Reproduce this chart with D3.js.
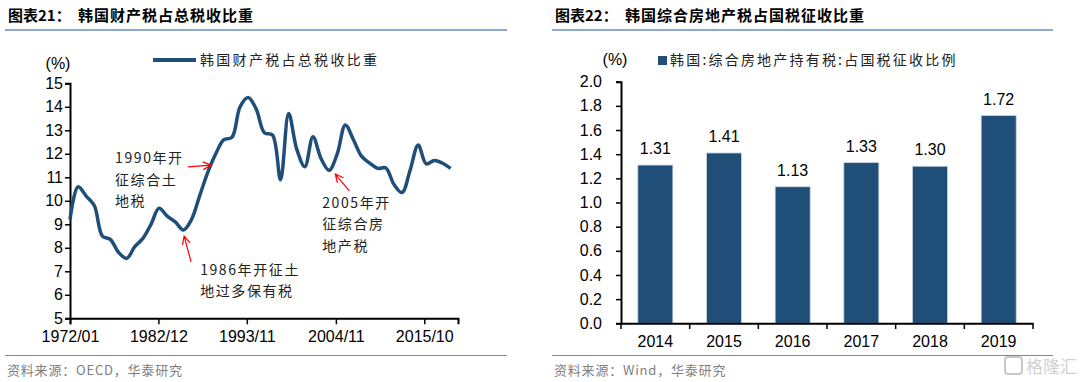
<!DOCTYPE html>
<html>
<head>
<meta charset="utf-8">
<script src="https://cdn.jsdelivr.net/npm/d3@7"></script>
<style>
  html,body{margin:0;padding:0;background:#fff;}
  svg{display:block;}
  text{font-family:"Liberation Sans",Arial,sans-serif;}
  .cjk{font-family:"Noto Sans CJK SC",sans-serif;}
</style>
</head>
<body>
<svg id="chart" width="1080" height="382"></svg>
<script>
// 图表21 data: 韩国财产税占总税收比重 (annual, %)
var years = d3.range(1972,2020);
var shareValues = [9.2,10.6,10.2,9.8,8.5,8.35,7.8,7.55,8.05,8.4,
	9.0,9.68,9.35,9.1,8.76,9.2,10.2,11.2,12.0,12.6,
	12.7,14.0,14.4,13.9,12.9,12.8,10.9,13.72,12.2,11.45,
	12.73,11.8,11.3,12.0,13.23,12.6,11.9,11.6,11.38,11.4,
	10.7,10.35,11.3,12.37,11.57,11.72,11.6,11.38];
var lineTicks = ['1972/01','1982/12','1993/11','2004/11','2015/10'];
var lineLegend = '韩国财产税占总税收比重';

// annotations: text lines, text anchor, arrow from/to (year fraction, value)
var notes = [
	{lines:['1990年开','征综合土','地税'], at:[1977.56,11.82], from:[1986.59,11.44], to:[1989.43,11.52]},
	{lines:['1986年开征土','地过多保有税'], at:[1988.07,7.06], from:[1986.96,7.40], to:[1986.09,8.5]},
	{lines:['2005年开','征综合房','地产税'], at:[2003.15,9.91], from:[2006.49,10.42], to:[2004.76,11.14]}
];

// 图表22 data
var barYears = ['2014','2015','2016','2017','2018','2019'];
var barValues = [1.31,1.41,1.13,1.33,1.30,1.72];
var barLegend = '韩国:综合房地产持有税:占国税征收比例';

var svg = d3.select('#chart');
var blue = '#1F4E79';

function yr(f){
	var y = Math.floor(f);
	return new Date(y,0,1+Math.round((f-y)*365));
}
function parseTick(s){
	var p = s.split('/');
	return new Date(+p[0],+p[1]-1,1);
}

// frame: title, underline, footer
function frame(x0,x1,num,title,source){
	svg.append('text').attr('class','cjk').attr('x',x0+3).attr('y',21)
		.style('font-size','15px').style('font-weight','bold').text('图表'+num+'：');
	svg.append('text').attr('class','cjk').attr('x',x0+73).attr('y',21)
		.style('font-size','15px').style('font-weight','bold').style('letter-spacing','1px').text(title);
	svg.append('line').attr('x1',x0).attr('x2',x1).attr('y1',30).attr('y2',30)
		.style('stroke','#6A8CBE').style('stroke-width',1.5);
	svg.append('line').attr('x1',x0).attr('x2',x1).attr('y1',355.5).attr('y2',355.5)
		.style('stroke','#6A8CBE').style('stroke-width',1.2);
	svg.append('text').attr('class','cjk').attr('x',x0+2).attr('y',375)
		.style('font-size','13px').style('fill','#808080').style('letter-spacing','0.8px').text(source);
}
frame(5,507,'21','韩国财产税占总税收比重','资料来源：OECD，华泰研究');
frame(552,1053,'22','韩国综合房地产税占国税征收比重','资料来源：Wind，华泰研究');

//Part 1: line chart
var x = d3.scaleTime().domain([new Date(1972,0,1),new Date(2019,11,1)]).range([70,458]);
var y = d3.scaleLinear().domain([5,15]).range([318.3,83.3]);

var g1 = svg.append('g');
var yAxis1 = g1.append('g').attr('transform','translate(70,0)')
	.call(d3.axisLeft(y).ticks(10).tickSize(5).tickPadding(2));
var xAxis1 = g1.append('g').attr('transform','translate(0,318.3)')
	.call(d3.axisBottom(x).tickValues(lineTicks.map(parseTick)).tickSize(6).tickPadding(6)
		.tickFormat(function(d,i){return lineTicks[i]}));
[yAxis1,xAxis1].forEach(function(a){
	a.select('.domain').style('stroke','#000').style('stroke-width',2);
	a.selectAll('.tick line').style('stroke','#000').style('stroke-width',1.5);
	a.selectAll('.tick text').style('font-size','16px').style('fill','#000')
		.style('font-family','"Liberation Sans",Arial,sans-serif');
});

g1.append('text').attr('x',58).attr('y',69).attr('text-anchor','middle')
	.style('font-size','16px').text('(%)');

var line = d3.line()
	.x(function(d){return x(d.date)})
	.y(function(d){return y(d.value)})
	.curve(d3.curveCatmullRom.alpha(0.5));
var lineData = years.map(function(d,i){return {date:new Date(d,0,1),value:shareValues[i]}});
g1.append('path').datum(lineData).attr('d',line)
	.style('fill','none').style('stroke',blue).style('stroke-width',3.5)
	.style('stroke-linejoin','round');

// legend
g1.append('line').attr('x1',153).attr('x2',196).attr('y1',60).attr('y2',60)
	.style('stroke',blue).style('stroke-width',4);
g1.append('text').attr('class','cjk').attr('x',200).attr('y',65)
	.style('font-size','14px').style('letter-spacing','2.3px').style('fill','#222').text(lineLegend);

// annotations
notes.forEach(function(n){
	var tx = x(yr(n.at[0])), ty = y(n.at[1]);
	n.lines.forEach(function(l,i){
		g1.append('text').attr('class','cjk').attr('x',tx).attr('y',ty+5+i*21.5)
			.style('font-size','14px').style('letter-spacing','1.6px').style('fill','#222').text(l);
	});
	var x0 = x(yr(n.from[0])), y0 = y(n.from[1]),
		x1 = x(yr(n.to[0])), y1 = y(n.to[1]);
	var ang = Math.atan2(y1-y0,x1-x0), hl = 9, ha = 0.45;
	g1.append('path')
		.attr('d','M'+x0+','+y0+'L'+x1+','+y1+
			'M'+(x1-hl*Math.cos(ang-ha))+','+(y1-hl*Math.sin(ang-ha))+'L'+x1+','+y1+
			'L'+(x1-hl*Math.cos(ang+ha))+','+(y1-hl*Math.sin(ang+ha)))
		.style('fill','none').style('stroke','#FF0000').style('stroke-width',1.2);
});

//Part 2: bar chart
var xb = d3.scaleBand().domain(barYears).range([621,1033]).paddingInner(0.49).paddingOuter(0.245);
var yb = d3.scaleLinear().domain([0,2]).range([323.3,81.7]);

var g2 = svg.append('g');
g2.selectAll('rect').data(barValues).enter().append('rect')
	.attr('x',function(d,i){return xb(barYears[i])})
	.attr('width',xb.bandwidth())
	.attr('y',function(d){return yb(d)})
	.attr('height',function(d){return yb(0)-yb(d)})
	.style('fill',blue).style('stroke','#C9D3DF').style('stroke-width',0.8);

g2.selectAll('.val').data(barValues).enter().append('text').attr('class','val')
	.attr('x',function(d,i){return xb(barYears[i])+xb.bandwidth()/2})
	.attr('y',function(d){return yb(d)-11})
	.attr('text-anchor','middle').style('font-size','16px').style('fill','#000')
	.text(function(d){return d.toFixed(2)});

var yAxis2 = g2.append('g').attr('transform','translate(621,0)')
	.call(d3.axisLeft(yb).ticks(10).tickSize(5).tickPadding(14).tickFormat(d3.format('.1f')));
var xAxis2 = g2.append('g').attr('transform','translate(0,323.3)')
	.call(d3.axisBottom(xb.copy().paddingInner(0).paddingOuter(0)).tickSize(0).tickPadding(12));
// category boundary ticks
g2.selectAll('.bt').data(d3.range(barYears.length+1)).enter().append('line').attr('class','bt')
	.attr('x1',function(i){return 621+i*(1033-621)/barYears.length})
	.attr('x2',function(i){return 621+i*(1033-621)/barYears.length})
	.attr('y1',323.3).attr('y2',329)
	.style('stroke','#000').style('stroke-width',1.5);
[yAxis2,xAxis2].forEach(function(a){
	a.select('.domain').style('stroke','#000').style('stroke-width',2);
	a.selectAll('.tick line').style('stroke','#000').style('stroke-width',1.5);
	a.selectAll('.tick text').style('font-size','16px').style('fill','#000')
		.style('font-family','"Liberation Sans",Arial,sans-serif');
});

g2.append('text').attr('x',615).attr('y',65).attr('text-anchor','middle')
	.style('font-size','16px').text('(%)');
g2.append('rect').attr('x',658).attr('y',56).attr('width',9).attr('height',9).style('fill',blue);
g2.append('text').attr('class','cjk').attr('x',670).attr('y',65)
	.style('font-size','14px').style('letter-spacing','2.2px').style('fill','#222').text(barLegend);

// watermark
svg.append('rect').attr('x',1005).attr('y',357).attr('width',17).attr('height',17).attr('rx',3)
	.style('fill','none').style('stroke','#C8C8C8').style('stroke-width',2);
svg.append('text').attr('class','cjk').attr('x',1026).attr('y',373)
	.style('font-size','17px').style('fill','#D0D0D0').text('格隆汇');
</script>
</body>
</html>
